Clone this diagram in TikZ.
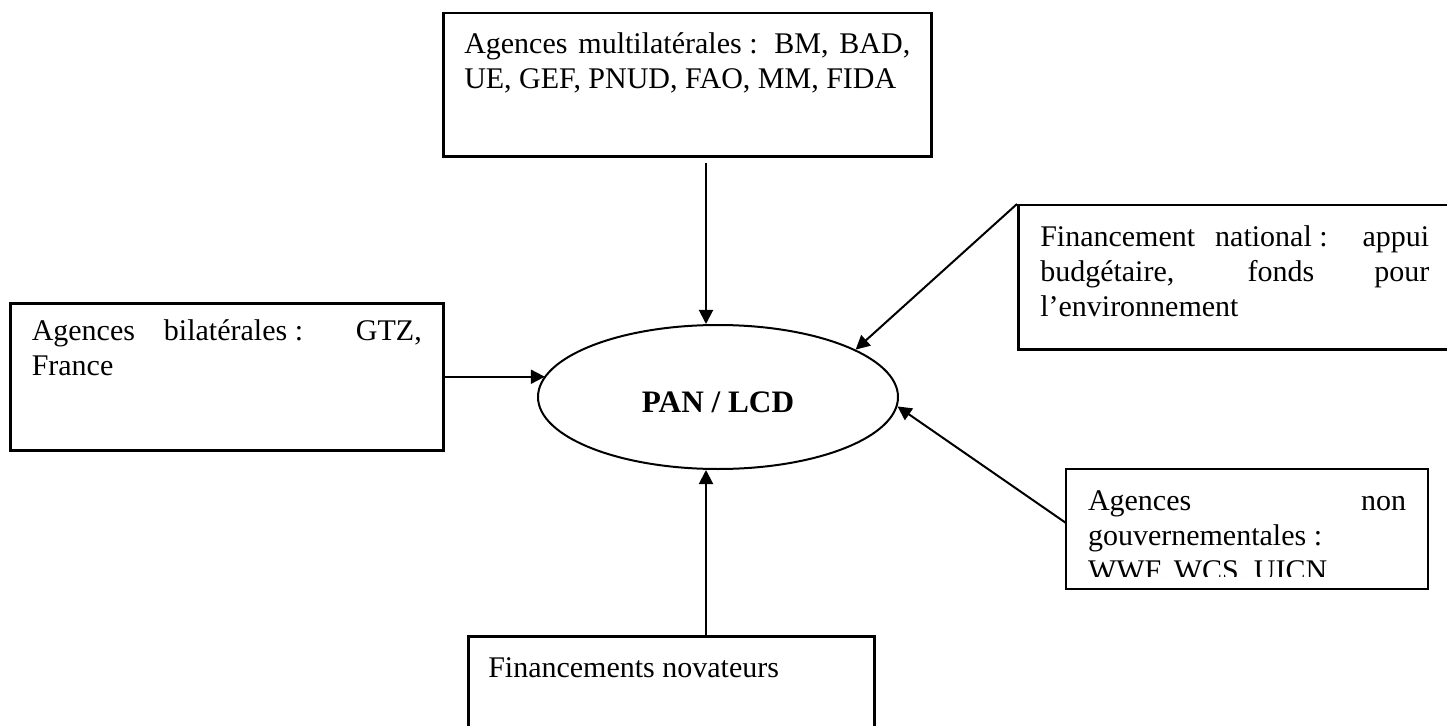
\documentclass[tikz,border=0pt]{standalone}
\usepackage{fontspec}
\setmainfont{Liberation Serif}
\usetikzlibrary{arrows.meta,shapes.geometric,calc}
\newcommand\fsp{\nobreak\hspace{0.25em}}
\newcommand\jline[1]{\makebox[\linewidth][s]{#1}}
\begin{document}
\begin{tikzpicture}[x=0.4pt,y=-0.4pt,
  boxnode/.style={draw,line width=1pt,inner sep=0pt,anchor=north west,
    font=\fontsize{12}{14}\selectfont},
  plainnode/.style={draw=none,inner sep=0pt,anchor=north west,
    font=\fontsize{12}{14}\selectfont},
  boxline/.style={line width=1pt},
  arr/.style={line width=0.8pt,-{Triangle[length=5.6pt,width=5.6pt]}},
  ellnode/.style={ellipse,draw,line width=0.8pt,inner sep=0pt,
    minimum width=144pt,minimum height=57.6pt,
    font=\fontsize{12.5}{14}\selectfont\bfseries}]
\clip (0,0) rectangle (1447,726);
\fill[white] (0,0) rectangle (1447,726);

% top box
\node[boxnode,minimum width=195.2pt,minimum height=57.2pt] (top) at (442,12)
  {\parbox[c][57.2pt][t]{178.4pt}{\rule{0pt}{16pt}\jline{Agences multilatérales\fsp: BM, BAD,}\\
   UE, GEF, PNUD, FAO, MM, FIDA}};

% left box
\node[boxnode,minimum width=173.2pt,minimum height=58.8pt] (left) at (9,302)
  {\parbox[c][58.8pt][t]{156pt}{\rule{0pt}{14.8pt}\jline{Agences bilatérales\fsp: GTZ,}\\
   France}};

% right upper box
\node[boxnode,minimum width=173.2pt,minimum height=57.6pt] (rb) at (1017,204)
  {\parbox[c][57.6pt][t]{155.6pt}{\rule{0pt}{16.4pt}\jline{Financement national\fsp: appui}\\
   \jline{budgétaire, fonds pour}\\
   l’environnement}};

% non governmental box (text clipped at the bottom)
\begin{scope}
\clip (1066,469) rectangle (1427,576);
\node[plainnode,minimum width=144.4pt,minimum height=47.6pt] (ng) at (1066,469)
  {\parbox[c][47.6pt][t]{127.2pt}{\rule{0pt}{16.4pt}\jline{Agences non}\\
   gouvernementales\fsp:\\
   WWF, WCS, UICN}};
\end{scope}
\draw[boxline] (ng.north west) rectangle (ng.south east);

% bottom box
\node[boxnode,minimum width=162.4pt,minimum height=48pt] (bot) at (467,635)
  {\parbox[c][48pt][t]{146.4pt}{\rule{0pt}{16.4pt}Financements novateurs}};

% ellipse
\node[ellnode] (ell) at (718,397) {\smash{\raisebox{-6pt}{PAN / LCD}}};

% connectors
\coordinate (tA) at (706,163);
\draw[arr] (tA) -- (tA |- ell.north);
\draw[arr] (bot.north -| tA) -- (tA |- ell.south);
\draw[arr] (left.east) -- (left.east -| ell.173);
\draw[arr] (rb.north west) -- (ell.19);
\draw[arr] ($(ng.north west)!0.45!(ng.south west)$) -- (ell.-3);
\end{tikzpicture}
\end{document}
